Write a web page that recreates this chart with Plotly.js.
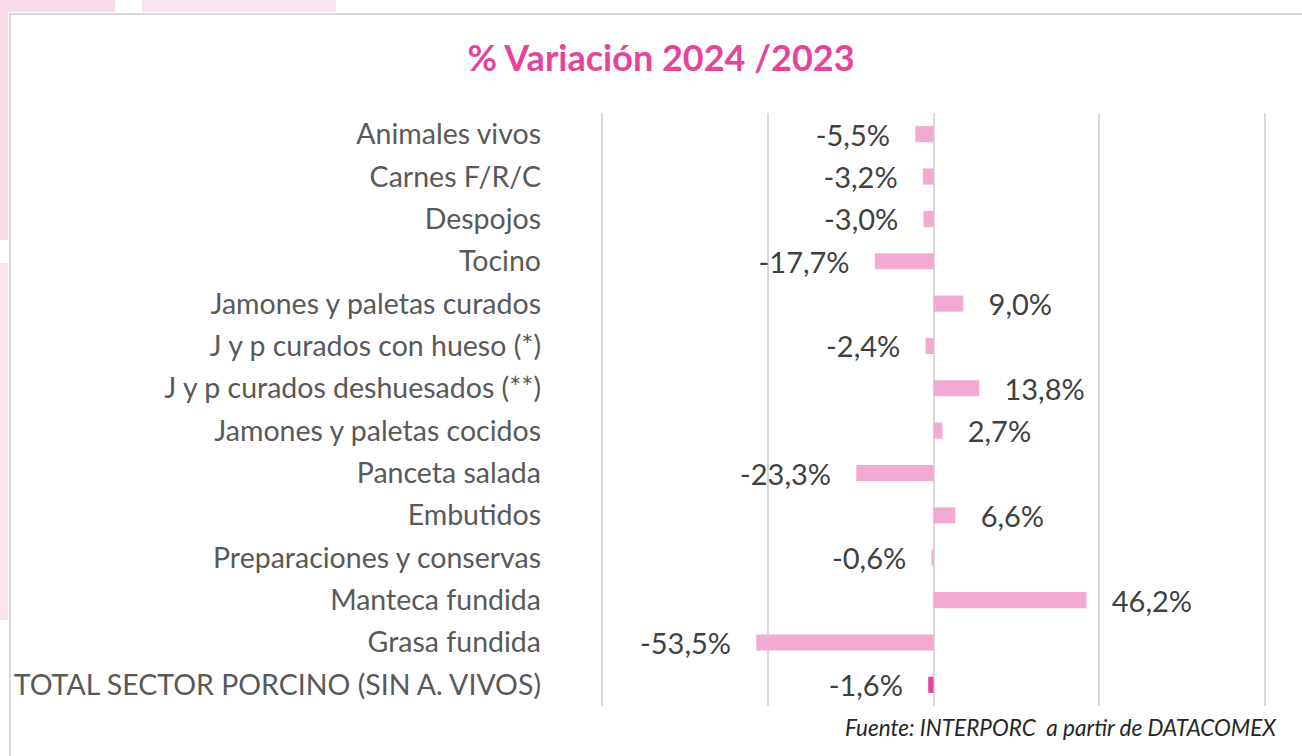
<!DOCTYPE html>
<html>
<head>
<meta charset="utf-8">
<script src="https://cdn.plot.ly/plotly-3.0.1.min.js"></script>
<style>html,body{margin:0;padding:0;background:#fff;}#chart{width:1302px;height:756px;}</style>
</head>
<body>
<div id="chart"></div>
<script>
var categories = [
  "Animales vivos",
  "Carnes F/R/C",
  "Despojos",
  "Tocino",
  "Jamones y paletas curados",
  "J y p curados con hueso (*)",
  "J y p curados deshuesados (**)",
  "Jamones y paletas cocidos",
  "Panceta salada",
  "Embutidos",
  "Preparaciones y conservas",
  "Manteca fundida",
  "Grasa fundida",
  "TOTAL SECTOR PORCINO (SIN A. VIVOS)"
];
var variation = [-5.5, -3.2, -3.0, -17.7, 9.0, -2.4, 13.8, 2.7, -23.3, 6.6, -0.6, 46.2, -53.5, -1.6];
var gridTicks = [-100, -50, 0, 50, 100];

var W = 1302, H = 756;
var L = 599, R = 1268, T = 113, B = 706;
function px(x){ return (x - L) / (R - L); }
function py(y){ return (B - y) / (B - T); }

var NB = '\u00a0';
var labels = variation.map(function(v){
  var s = (v < 0 ? '-' : '') + Math.abs(v).toFixed(1).replace('.', ',') + '%';
  return v < 0 ? s + NB + NB + NB : NB + NB + NB + s;
});
var colors = categories.map(function(c, i){ return i === categories.length - 1 ? '#E6449B' : '#F2AAD3'; });

var trace = {
  type: 'bar',
  orientation: 'h',
  x: variation,
  y: categories,
  width: 0.38,
  marker: {color: colors, line: {width: 0}},
  text: labels,
  textposition: 'outside',
  textangle: 0,
  constraintext: 'none',
  cliponaxis: false,
  textfont: {family: 'Lato, sans-serif', size: 29, color: '#404040'},
  hoverinfo: 'skip'
};

var shapes = [
  {type:'rect', xref:'paper', yref:'paper', x0:px(0), x1:px(115), y0:py(12), y1:py(0), fillcolor:'#F8DCEA', line:{width:0}, layer:'below'},
  {type:'rect', xref:'paper', yref:'paper', x0:px(142), x1:px(336), y0:py(12), y1:py(0), fillcolor:'#FAE3EE', line:{width:0}, layer:'below'},
  {type:'rect', xref:'paper', yref:'paper', x0:px(0), x1:px(8), y0:py(240), y1:py(0), fillcolor:'#F8DCEA', line:{width:0}, layer:'below'},
  {type:'rect', xref:'paper', yref:'paper', x0:px(0), x1:px(8), y0:py(620), y1:py(263), fillcolor:'#FAE3EE', line:{width:0}, layer:'below'},
  {type:'rect', xref:'paper', yref:'paper', x0:px(10), x1:px(1310), y0:py(770), y1:py(14), fillcolor:'rgba(0,0,0,0)', line:{color:'#D9D9D9', width:2}, layer:'below'}
];

var layout = {
  width: W, height: H,
  margin: {l: L, r: W - R, t: T, b: H - B, pad: 0},
  paper_bgcolor: '#ffffff',
  plot_bgcolor: 'rgba(0,0,0,0)',
  separators: ',.',
  showlegend: false,
  title: {
    text: '% Variación 2024 /2023',
    font: {family: 'Lato, sans-serif', size: 36, color: '#E6449B', weight: 'bold'},
    x: 661 / W, xanchor: 'center', xref: 'container',
    y: 1 - 58 / H, yanchor: 'middle', yref: 'container'
  },
  xaxis: {
    range: [-101, 101],
    tickvals: gridTicks,
    showticklabels: false,
    showgrid: true,
    gridcolor: '#D9D9D9',
    gridwidth: 2,
    zeroline: true,
    zerolinecolor: '#D9D9D9',
    zerolinewidth: 2,
    showline: false,
    fixedrange: true
  },
  yaxis: {
    type: 'category',
    autorange: 'reversed',
    showgrid: false,
    zeroline: false,
    showline: false,
    ticks: '',
    ticklabelstandoff: 57,
    tickfont: {family: 'Lato, sans-serif', size: 28.5, color: '#595959'},
    fixedrange: true
  },
  shapes: shapes,
  annotations: [{
    text: 'Fuente: INTERPORC  a partir de DATACOMEX',
    xref: 'paper', yref: 'paper',
    x: px(1279), y: py(727),
    xanchor: 'right', yanchor: 'middle',
    showarrow: false,
    font: {family: 'Lato, sans-serif', size: 22.5, color: '#262626', style: 'italic'}
  }]
};

Plotly.newPlot('chart', [trace], layout, {displayModeBar: false, staticPlot: true});
</script>
</body>
</html>
